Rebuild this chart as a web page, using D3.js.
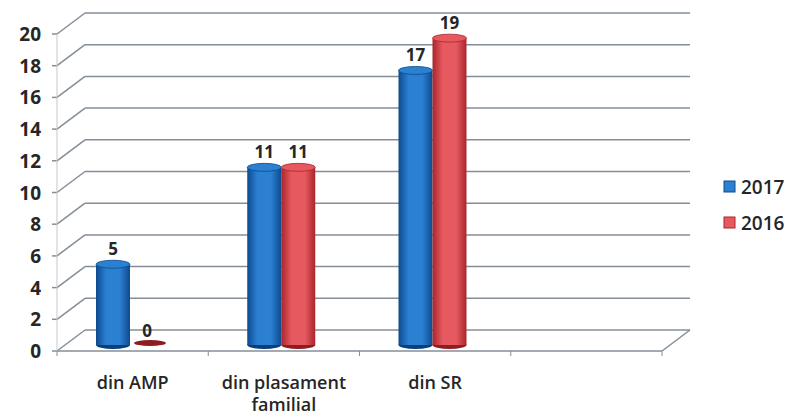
<!DOCTYPE html>
<html>
<head>
<meta charset="utf-8">
<script src="https://cdn.jsdelivr.net/npm/d3@7"></script>
<style>
  body { margin: 0; background: #fff; }
  svg text { font-family: "Open Sans", "Noto Sans", sans-serif; fill: #262626; }
</style>
</head>
<body>
<svg id="chart" width="793" height="419"></svg>
<script>
var categories = ['din AMP', 'din plasament familial', 'din SR', ''];
var series = ['2017', '2016'];
var values2017 = [5, 11, 17];
var values2016 = [0, 11, 19];
var yTicks = [0, 2, 4, 6, 8, 10, 12, 14, 16, 18, 20];
var colors = { '2017': ['#0d4a8e', '#2b80d2', '#0b3f78'], '2016': ['#a8262c', '#e65a5f', '#8e1d22'] };

var svg = d3.select('#chart'),
    defs = svg.append('defs'),
    depthX = 28, depthY = -21,
    x = d3.scaleBand().domain(categories).range([57, 662]),
    yFront = d3.scaleLinear().domain([0, 20]).range([351, 34]),
    yBack = d3.scaleLinear().domain([0, 20]).range([351 + depthY, 34 + depthY]),
    barBase = 345, barShift = 8, barW = 34,
    yBar = d3.scaleLinear().domain([0, 20]).range([barBase, barBase - 323]);

series.forEach(function(s){
    var g = defs.append('linearGradient').attr('id', 'g' + s).attr('x1', 0).attr('x2', 1);
    g.append('stop').attr('offset', '0%').attr('stop-color', colors[s][0]);
    g.append('stop').attr('offset', '30%').attr('stop-color', colors[s][1]);
    g.append('stop').attr('offset', '70%').attr('stop-color', colors[s][1]);
    g.append('stop').attr('offset', '100%').attr('stop-color', colors[s][0]);
});

var grid = svg.append('g').attr('stroke', '#858e97').attr('stroke-width', 1.5).attr('fill', 'none');

// back wall lines + left diagonals
yTicks.forEach(function(t){
    grid.append('line')
        .attr('x1', 57 + depthX).attr('x2', 662 + depthX)
        .attr('y1', yBack(t)).attr('y2', yBack(t));
    grid.append('line')
        .attr('x1', 57).attr('x2', 57 + depthX)
        .attr('y1', yFront(t)).attr('y2', yBack(t));
    grid.append('line')
        .attr('x1', 52).attr('x2', 57)
        .attr('y1', yFront(t)).attr('y2', yFront(t));
});
// floor
grid.append('line').attr('x1', 57).attr('x2', 662).attr('y1', yFront(0)).attr('y2', yFront(0));
grid.append('line').attr('x1', 662).attr('x2', 662 + depthX).attr('y1', yFront(0)).attr('y2', yBack(0));
grid.append('line').attr('x1', 57).attr('x2', 57).attr('y1', yFront(20)).attr('y2', yFront(0))
    .attr('stroke-width', 1).attr('stroke', '#c3c8cc');
categories.concat(['end']).forEach(function(c, i){
    var px = 57 + i * x.bandwidth();
    grid.append('line').attr('x1', px).attr('x2', px).attr('y1', yFront(0)).attr('y2', yFront(0) + 5)
        .attr('stroke-width', 1);
});

// y tick labels
svg.append('g').selectAll('text').data(yTicks).join('text')
    .attr('x', 41).attr('y', function(d){ return yFront(d) + 7; })
    .attr('text-anchor', 'end')
    .attr('font-size', 19).attr('font-weight', 700)
    .text(function(d){ return d; });

// category labels
var catG = svg.append('g');
categories.forEach(function(c){
    if (!c) return;
    var cx = x(c) + x.bandwidth() / 2,
        words = c.split(' '),
        lines = c.length > 12 ? [words.slice(0, 2).join(' '), words.slice(2).join(' ')] : [c];
    lines.forEach(function(l, i){
        catG.append('text')
            .attr('x', cx).attr('y', 389 + i * 22)
            .attr('text-anchor', 'middle')
            .attr('font-size', 18).attr('font-weight', 600)
            .text(l);
    });
});

// cylinders
var bars = svg.append('g');
function cylinder(s, cat, v, idx){
    var x0 = x(cat) + 31 + barShift + idx * barW,
        top = yBar(v),
        rx = barW / 2, ry = 4,
        cx = x0 + rx;
    if (v === 0){
        bars.append('ellipse').attr('cx', cx + 3).attr('cy', barBase - 2).attr('rx', rx - 1).attr('ry', 3)
            .attr('fill', colors[s][2]);
    } else {
        bars.append('ellipse').attr('cx', cx).attr('cy', barBase).attr('rx', rx).attr('ry', ry)
            .attr('fill', colors[s][2]);
        bars.append('rect').attr('x', x0).attr('y', top).attr('width', barW).attr('height', barBase - top)
            .attr('fill', 'url(#g' + s + ')');
        bars.append('ellipse').attr('cx', cx).attr('cy', top).attr('rx', rx).attr('ry', ry)
            .attr('fill', colors[s][1]).attr('stroke', colors[s][0]).attr('stroke-width', 0.8);
    }
    bars.append('text')
        .attr('x', cx).attr('y', top - (v === 0 ? 8 : 9))
        .attr('text-anchor', 'middle')
        .attr('font-size', 17).attr('font-weight', 700)
        .text(v);
}
values2017.forEach(function(v, i){ cylinder('2017', categories[i], v, 0); });
values2016.forEach(function(v, i){ cylinder('2016', categories[i], v, 1); });

// legend
var leg = svg.append('g');
series.forEach(function(s, i){
    leg.append('rect').attr('x', 724).attr('y', 181 + i * 36).attr('width', 11).attr('height', 11)
        .attr('fill', colors[s][1]).attr('stroke', colors[s][0]);
    leg.append('text').attr('x', 741).attr('y', 194 + i * 36)
        .attr('font-size', 19).attr('font-weight', 600)
        .text(s);
});
</script>
</body>
</html>
